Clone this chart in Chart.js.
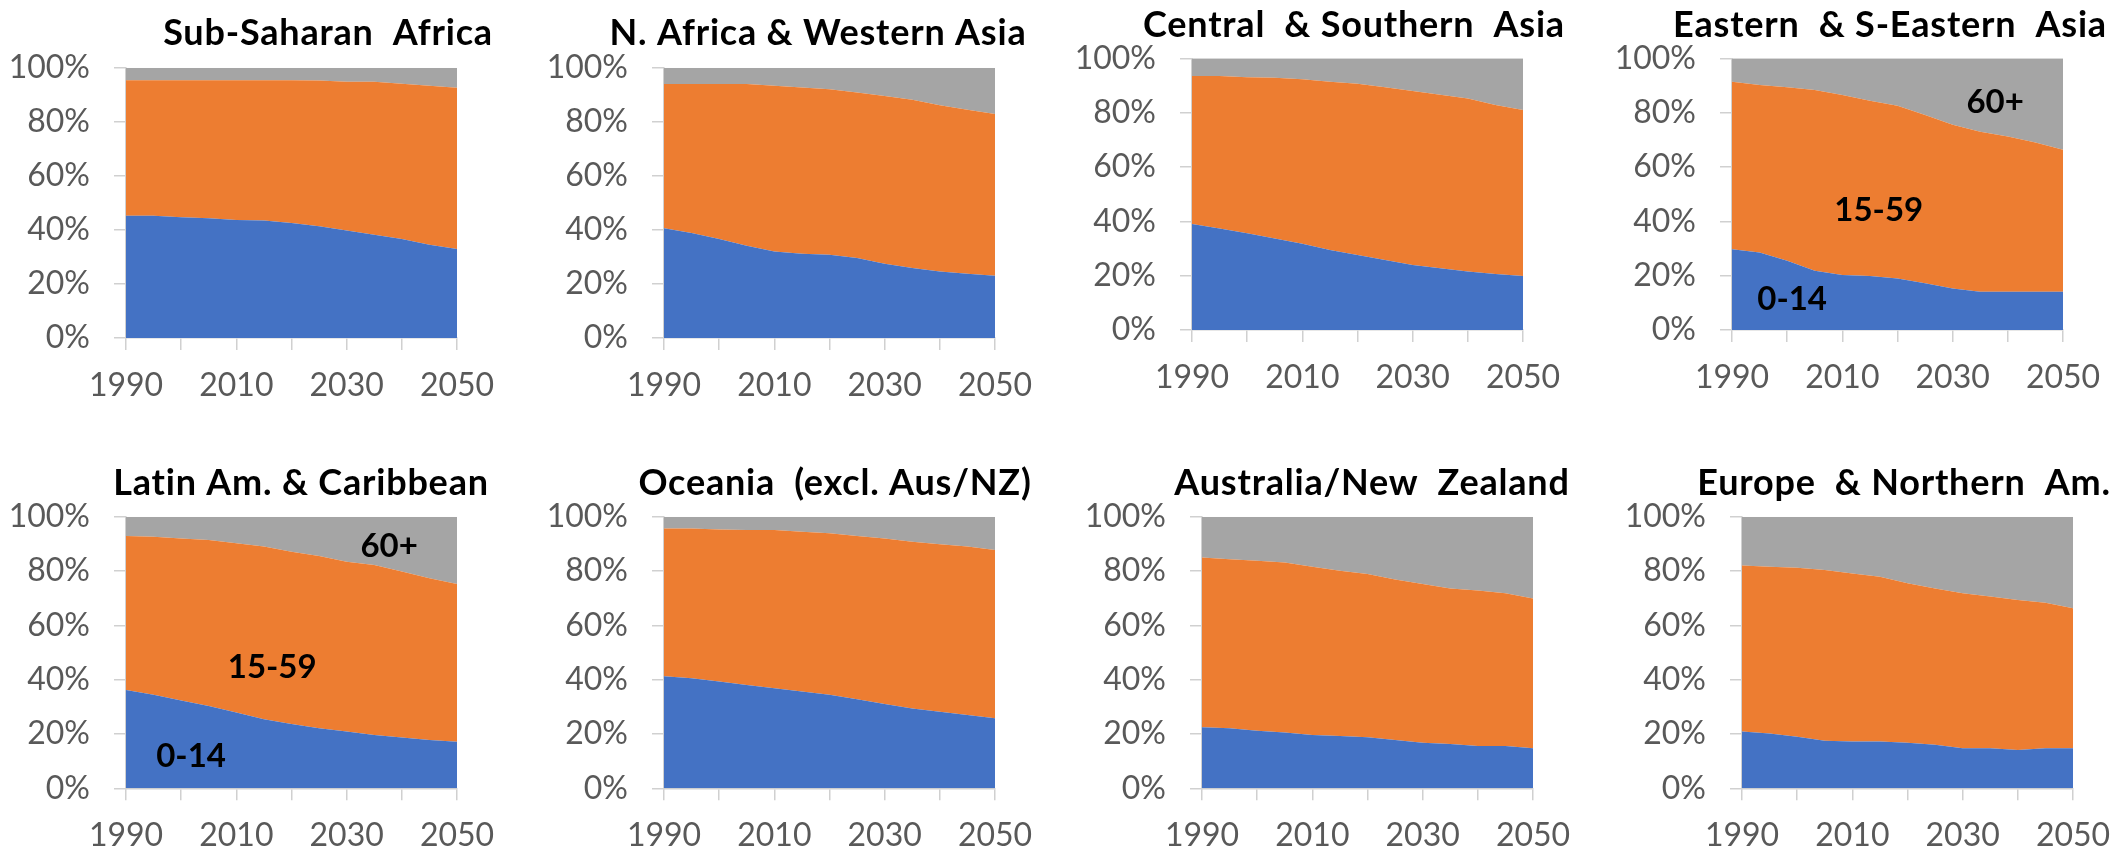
<!DOCTYPE html>
<html>
<head>
<meta charset="utf-8">
<script src="https://cdn.jsdelivr.net/npm/chart.js@4.4.1/dist/chart.umd.min.js"></script>
<style>
  html, body { margin: 0; padding: 0; background: #fff; width: 2128px; height: 852px; overflow: hidden; position: relative; }
  .panel { position: absolute; }
  .panel canvas { display: block; }
</style>
</head>
<body>
<script>
// Share of population by broad age group, 1990-2050 (percent)
const years = [1990, 1995, 2000, 2005, 2010, 2015, 2020, 2025, 2030, 2035, 2040, 2045, 2050];
const axisYears = [1990, 2010, 2030, 2050];
const ageGroups = ['0-14', '15-59', '60+'];
const ageColors = ['#4472C4', '#ED7D31', '#A5A5A5'];
const regionNames = [
  'Sub-Saharan  Africa', 'N. Africa & Western Asia', 'Central  & Southern  Asia', 'Eastern  & S-Eastern  Asia',
  'Latin Am. & Caribbean', 'Oceania  (excl. Aus/NZ)', 'Australia/New  Zealand', 'Europe  & Northern  Am.'
];

const ssaYoung   = [45.2, 45.2, 44.7, 44.3, 43.7, 43.5, 42.5, 41.3, 39.8, 38.2, 36.6, 34.5, 32.9];
const ssaWorking = [50.2, 50.2, 50.7, 51.1, 51.7, 51.9, 52.9, 54.0, 55.0, 56.6, 57.5, 58.8, 59.7];
const ssaOld     = [4.6, 4.6, 4.6, 4.6, 4.6, 4.6, 4.6, 4.7, 5.2, 5.2, 5.9, 6.7, 7.4];

const nawaYoung   = [40.6, 38.8, 36.6, 34.1, 32.0, 31.2, 30.8, 29.6, 27.5, 25.9, 24.6, 23.8, 23.0];
const nawaWorking = [53.4, 55.2, 57.4, 59.9, 61.3, 61.5, 61.2, 61.2, 62.0, 62.2, 61.5, 60.6, 59.9];
const nawaOld     = [6.0, 6.0, 6.0, 6.0, 6.7, 7.3, 8.0, 9.2, 10.5, 11.9, 13.9, 15.6, 17.1];

const csaYoung   = [39.0, 37.4, 35.6, 33.7, 31.7, 29.4, 27.6, 25.8, 23.9, 22.7, 21.5, 20.6, 19.9];
const csaWorking = [54.5, 56.1, 57.4, 59.1, 60.6, 62.0, 63.0, 63.5, 64.1, 63.9, 63.7, 62.2, 61.1];
const csaOld     = [6.5, 6.5, 7.0, 7.2, 7.7, 8.6, 9.4, 10.7, 12.0, 13.4, 14.8, 17.2, 19.0];

const esaYoung   = [29.7, 28.5, 25.5, 21.8, 20.2, 19.9, 19.0, 17.2, 15.3, 14.1, 14.1, 14.1, 14.1];
const esaWorking = [61.7, 61.7, 63.8, 66.5, 66.3, 64.5, 63.5, 61.9, 60.2, 58.9, 57.1, 54.9, 52.2];
const esaOld     = [8.6, 9.8, 10.7, 11.7, 13.5, 15.6, 17.5, 20.9, 24.5, 27.0, 28.8, 31.0, 33.7];

const lacYoung   = [36.2, 34.4, 32.3, 30.3, 27.9, 25.4, 23.7, 22.1, 20.9, 19.6, 18.7, 17.8, 17.1];
const lacWorking = [56.7, 58.2, 59.7, 61.1, 62.3, 63.6, 63.4, 63.4, 62.5, 62.6, 61.1, 59.5, 58.1];
const lacOld     = [7.1, 7.4, 8.0, 8.6, 9.8, 11.0, 12.9, 14.5, 16.6, 17.8, 20.2, 22.7, 24.8];

const oceYoung   = [41.3, 40.5, 39.3, 38.0, 36.8, 35.6, 34.4, 32.8, 31.0, 29.4, 28.2, 27.0, 25.8];
const oceWorking = [54.4, 55.2, 56.0, 57.1, 58.3, 58.9, 59.5, 60.1, 61.0, 61.4, 61.7, 62.0, 61.9];
const oceOld     = [4.3, 4.3, 4.7, 4.9, 4.9, 5.5, 6.1, 7.1, 8.0, 9.2, 10.1, 11.0, 12.3];

const anzYoung   = [22.5, 22.1, 21.2, 20.5, 19.6, 19.3, 18.8, 17.8, 16.8, 16.3, 15.6, 15.6, 14.7];
const anzWorking = [62.5, 62.2, 62.6, 62.6, 62.0, 60.8, 60.1, 59.1, 58.4, 57.3, 57.2, 56.2, 55.2];
const anzOld     = [15.0, 15.7, 16.2, 16.9, 18.4, 19.9, 21.1, 23.1, 24.8, 26.4, 27.2, 28.2, 30.1];

const enaYoung   = [20.9, 20.2, 19.0, 17.5, 17.2, 17.2, 16.8, 16.0, 14.7, 14.7, 14.1, 14.7, 14.7];
const enaWorking = [61.1, 61.4, 62.2, 62.9, 61.9, 60.7, 58.7, 57.6, 57.1, 55.9, 55.2, 53.6, 51.6];
const enaOld     = [18.0, 18.4, 18.8, 19.6, 20.9, 22.1, 24.5, 26.4, 28.2, 29.4, 30.7, 31.7, 33.7];

const regionSeries = [
  [ssaYoung, ssaWorking, ssaOld], [nawaYoung, nawaWorking, nawaOld],
  [csaYoung, csaWorking, csaOld], [esaYoung, esaWorking, esaOld],
  [lacYoung, lacWorking, lacOld], [oceYoung, oceWorking, oceOld],
  [anzYoung, anzWorking, anzOld], [enaYoung, enaWorking, enaOld]
];

// In-plot age-group labels (year, share) for the two annotated panels
const labelledPanels = [3, 4];
const labelYears  = [[2000.9, 2016.6, 2037.7], [2001.8, 2016.5, 2037.7]];
const labelShares = [[11.4, 44.2, 83.9], [11.9, 44.7, 89.2]];

// Page placement of each panel: plot area edges, title centre and baseline
const panelBoxes = [
  { l: 126,  r: 457,  t: 67.7,  b: 338,   tx: 328,  ty: 45 },
  { l: 664,  r: 995,  t: 67.7,  b: 338,   tx: 818,  ty: 45 },
  { l: 1192, r: 1523, t: 58.3,  b: 330,   tx: 1354, ty: 36.7 },
  { l: 1732, r: 2063, t: 58.3,  b: 330,   tx: 1890, ty: 36.7 },
  { l: 126,  r: 457,  t: 516.7, b: 788.3, tx: 301,  ty: 495 },
  { l: 664,  r: 995,  t: 516.7, b: 788.3, tx: 835,  ty: 495 },
  { l: 1202, r: 1533, t: 516.7, b: 788.3, tx: 1372, ty: 495 },
  { l: 1742, r: 2073, t: 516.7, b: 788.3, tx: 1904, ty: 495 }
];

const Y_AXIS_W = 130;
const RIGHT_PAD = 60;
const AXIS_GREY = '#D0D0D0';
const TICK_TEXT = '#595959';
const FONT = 'Lato';

function buildPanel(i) {
  const box = panelBoxes[i];
  const left = box.l - Y_AXIS_W;
  const top = Math.round(box.ty - 45);
  const width = (box.r + RIGHT_PAD) - left;
  const height = Math.round(box.b + 80 - top);
  const plotBottom = box.b - top;

  const holder = document.createElement('div');
  holder.className = 'panel';
  holder.style.left = left + 'px';
  holder.style.top = top + 'px';
  holder.style.width = width + 'px';
  holder.style.height = height + 'px';
  const canvas = document.createElement('canvas');
  holder.appendChild(canvas);
  document.body.appendChild(holder);

  const k = labelledPanels.indexOf(i);
  const textPlugin = {
    id: 'panelText',
    afterDraw(chart) {
      const ctx = chart.ctx;
      ctx.save();
      ctx.fillStyle = '#000';
      ctx.textAlign = 'center';
      ctx.textBaseline = 'alphabetic';
      ctx.font = 'bold 36px ' + FONT;
      ctx.letterSpacing = '0.8px';
      ctx.fillText(regionNames[i], box.tx - left, box.ty - top);
      ctx.letterSpacing = '0px';
      if (k >= 0) {
        ctx.font = 'bold 33px ' + FONT;
        ctx.textBaseline = 'middle';
        ageGroups.forEach((g, j) => {
          ctx.fillText(g, chart.scales.x.getPixelForValue(labelYears[k][j]),
                          chart.scales.y.getPixelForValue(labelShares[k][j]));
        });
      }
      ctx.restore();
    }
  };

  const datasets = ageGroups.map((g, j) => ({
    label: g,
    data: years.map((yr, n) => ({ x: yr, y: regionSeries[i][j][n] })),
    backgroundColor: ageColors[j],
    borderWidth: 0,
    borderColor: ageColors[j],
    pointRadius: 0,
    tension: 0,
    fill: j === 0 ? 'origin' : '-1'
  }));

  new Chart(canvas, {
    type: 'line',
    data: { datasets },
    plugins: [textPlugin],
    options: {
      responsive: true,
      maintainAspectRatio: false,
      animation: false,
      events: [],
      layout: { padding: { left: 0, right: RIGHT_PAD, top: box.t - top, bottom: 0 } },
      plugins: { legend: { display: false }, tooltip: { enabled: false }, title: { display: false } },
      scales: {
        x: {
          type: 'linear', min: 1990, max: 2050, z: 1,
          afterFit: s => { s.height = height - plotBottom; },
          grid: { drawOnChartArea: false, drawTicks: true, tickLength: 12, color: AXIS_GREY, lineWidth: 1.5 },
          border: { display: true, color: AXIS_GREY, width: 1.5 },
          ticks: {
            stepSize: 10, autoSkip: false, maxRotation: 0, padding: 16,
            color: TICK_TEXT, font: { family: FONT, size: 32 },
            callback: v => axisYears.includes(v) ? String(v) : ''
          }
        },
        y: {
          stacked: true, min: 0, max: 100, z: 1,
          afterFit: s => { s.width = Y_AXIS_W; },
          grid: { drawOnChartArea: false, drawTicks: true, tickLength: 12, color: AXIS_GREY, lineWidth: 1.5 },
          border: { display: true, color: AXIS_GREY, width: 1.5 },
          ticks: {
            stepSize: 20, padding: 24,
            color: TICK_TEXT, font: { family: FONT, size: 32 },
            callback: v => v + '%'
          }
        }
      }
    }
  });
}

panelBoxes.forEach((_, i) => buildPanel(i));
</script>
</body>
</html>
